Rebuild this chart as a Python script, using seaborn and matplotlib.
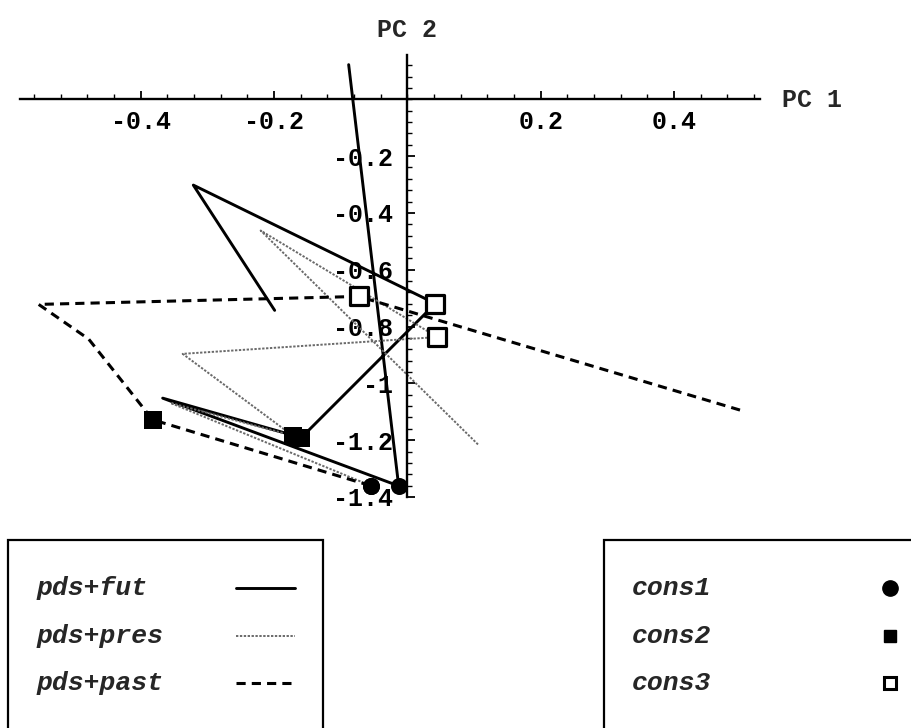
import numpy as np
import pandas as pd
import matplotlib
matplotlib.use("Agg")
import matplotlib.pyplot as plt
from matplotlib.lines import Line2D
from matplotlib.patches import Rectangle
from matplotlib.ticker import MultipleLocator
import seaborn as sns

# ---------------- data ----------------
fut_x = [-0.199, -0.321, 0.042, -0.159, -0.367, -0.013, -0.088]
fut_y = [-0.743, -0.302, -0.719, -1.191, -1.052, -1.361, 0.122]

pres_x = [0.106, -0.220, 0.045, -0.337, -0.172, -0.355, -0.054]
pres_y = [-1.215, -0.462, -0.837, -0.896, -1.184, -1.069, -1.361]

past_x = [0.499, -0.073, -0.553, -0.478, -0.382, -0.054]
past_y = [-1.094, -0.694, -0.722, -0.844, -1.128, -1.361]

cons1_x = [-0.013, -0.054, -0.054]
cons1_y = [-1.361, -1.361, -1.361]
cons2_x = [-0.159, -0.172, -0.382]
cons2_y = [-1.191, -1.184, -1.128]
cons3_x = [0.042, 0.045, -0.073]
cons3_y = [-0.719, -0.837, -0.694]

x_ticks = [-0.4, -0.2, 0.2, 0.4]
x_tick_labels = ["-0.4", "-0.2", "0.2", "0.4"]
y_ticks = [-0.2, -0.4, -0.6, -0.8, -1.0, -1.2, -1.4]
y_tick_labels = ["-0.2", "-0.4", "-0.6", "-0.8", "-1", "-1.2", "-1.4"]

series_names = ["pds+fut", "pds+pres", "pds+past"]
cons_names = ["cons1", "cons2", "cons3"]

# ---------------- style ----------------
sns.set_style("white")
plt.rcParams["font.family"] = ["Liberation Mono", "DejaVu Sans"]
plt.rcParams["xtick.bottom"] = True
plt.rcParams["ytick.left"] = True

W, H = 911, 728
fig = plt.figure(figsize=(W / 100, H / 100), dpi=100)

def fx(px):
    return px / W

def fy(py):
    return 1 - py / H

# axes box in pixels equals the axis-line extents
ax_l, ax_r, ax_t, ax_b = 20, 760, 55, 497
ax = fig.add_axes([fx(ax_l), fy(ax_b), (ax_r - ax_l) / W, (ax_b - ax_t) / H])
ax.set_xlim(-0.581, 0.529)
ax.set_ylim(-1.378, 0.156)
ax.patch.set_alpha(0)

# lines
styles = {
    "pds+fut": dict(color="black", linewidth=2.1, linestyle="-"),
    "pds+pres": dict(color="#6a6a6a", linewidth=1.4, linestyle=(0, (1.2, 0.8))),
    "pds+past": dict(color="black", linewidth=2.2, linestyle=(0, (3.0, 2.0))),
}
paths = {
    "pds+fut": (fut_x, fut_y),
    "pds+pres": (pres_x, pres_y),
    "pds+past": (past_x, past_y),
}
for name in series_names:
    xs, ys = paths[name]
    df = pd.DataFrame({"x": xs, "y": ys})
    sns.lineplot(data=df, x="x", y="y", sort=False, estimator=None, ax=ax,
                 clip_on=False, **styles[name])

# markers
df1 = pd.DataFrame({"x": cons1_x, "y": cons1_y})
df2 = pd.DataFrame({"x": cons2_x, "y": cons2_y})
df3 = pd.DataFrame({"x": cons3_x, "y": cons3_y})
sns.scatterplot(data=df1, x="x", y="y", marker="o", s=150, color="black",
                edgecolor="black", linewidth=0, ax=ax, clip_on=False, zorder=5)
sns.scatterplot(data=df2, x="x", y="y", marker="s", s=170, color="black",
                edgecolor="black", linewidth=0, ax=ax, clip_on=False, zorder=5)
sns.scatterplot(data=df3, x="x", y="y", marker="s", s=150, facecolor="white",
                edgecolor="black", linewidth=2.3, ax=ax, clip_on=False, zorder=5)

# axes through origin
for s in ["top", "right"]:
    ax.spines[s].set_visible(False)
ax.spines["left"].set_position(("data", 0))
ax.spines["bottom"].set_position(("data", 0))
ax.spines["left"].set_linewidth(1.7)
ax.spines["bottom"].set_linewidth(1.7)
ax.spines["left"].set_color("black")
ax.spines["bottom"].set_color("black")

ax.set_xticks(x_ticks)
ax.set_xticklabels(x_tick_labels)
ax.set_yticks(y_ticks)
ax.set_yticklabels(y_tick_labels)
ax.xaxis.set_minor_locator(MultipleLocator(0.04))
ax.yaxis.set_minor_locator(MultipleLocator(0.04))
ax.tick_params(axis="both", which="both", bottom=True, left=True,
               top=False, right=False)
ax.tick_params(axis="both", which="major", direction="in", length=6, width=1.3,
               labelsize=18, colors="black")
ax.tick_params(axis="both", which="minor", direction="in", length=3.5,
               width=1.0, colors="black")
ax.tick_params(axis="x", which="major", pad=8)
ax.tick_params(axis="y", which="major", pad=10)
for lab in ax.get_xticklabels() + ax.get_yticklabels():
    lab.set_fontweight("bold")
ax.set_xlabel("")
ax.set_ylabel("")

fig.text(fx(782), fy(100), "PC 1", fontsize=18, fontweight="bold",
         ha="left", va="center")
fig.text(fx(407), fy(30), "PC 2", fontsize=18, fontweight="bold",
         ha="center", va="center")

# ---------------- legend boxes ----------------
fig.add_artist(Rectangle((fx(8), fy(740)), (323 - 8) / W, (740 - 540) / H,
                         transform=fig.transFigure, fill=False,
                         edgecolor="black", linewidth=1.6))
fig.add_artist(Rectangle((fx(604), fy(740)), (920 - 604) / W, (740 - 540) / H,
                         transform=fig.transFigure, fill=False,
                         edgecolor="black", linewidth=1.6))

rows_y = [588, 636, 683]
for name, py in zip(series_names, rows_y):
    fig.text(fx(37), fy(py), name, fontsize=19, style="italic",
             fontweight="bold", ha="left", va="center")
    st = styles[name]
    fig.add_artist(Line2D([fx(236), fx(295)], [fy(py), fy(py)],
                          transform=fig.transFigure, **st))

marker_specs = [
    dict(marker="o", markersize=11, markerfacecolor="black", markeredgecolor="black"),
    dict(marker="s", markersize=9, markerfacecolor="black", markeredgecolor="black"),
    dict(marker="s", markersize=9, markerfacecolor="white", markeredgecolor="black",
         markeredgewidth=2.2),
]
for name, py, spec in zip(cons_names, rows_y, marker_specs):
    fig.text(fx(632), fy(py), name, fontsize=19, style="italic",
             fontweight="bold", ha="left", va="center")
    fig.add_artist(Line2D([fx(890)], [fy(py)], transform=fig.transFigure,
                          linestyle="none", **spec))

fig.savefig("out.png", dpi=100)
